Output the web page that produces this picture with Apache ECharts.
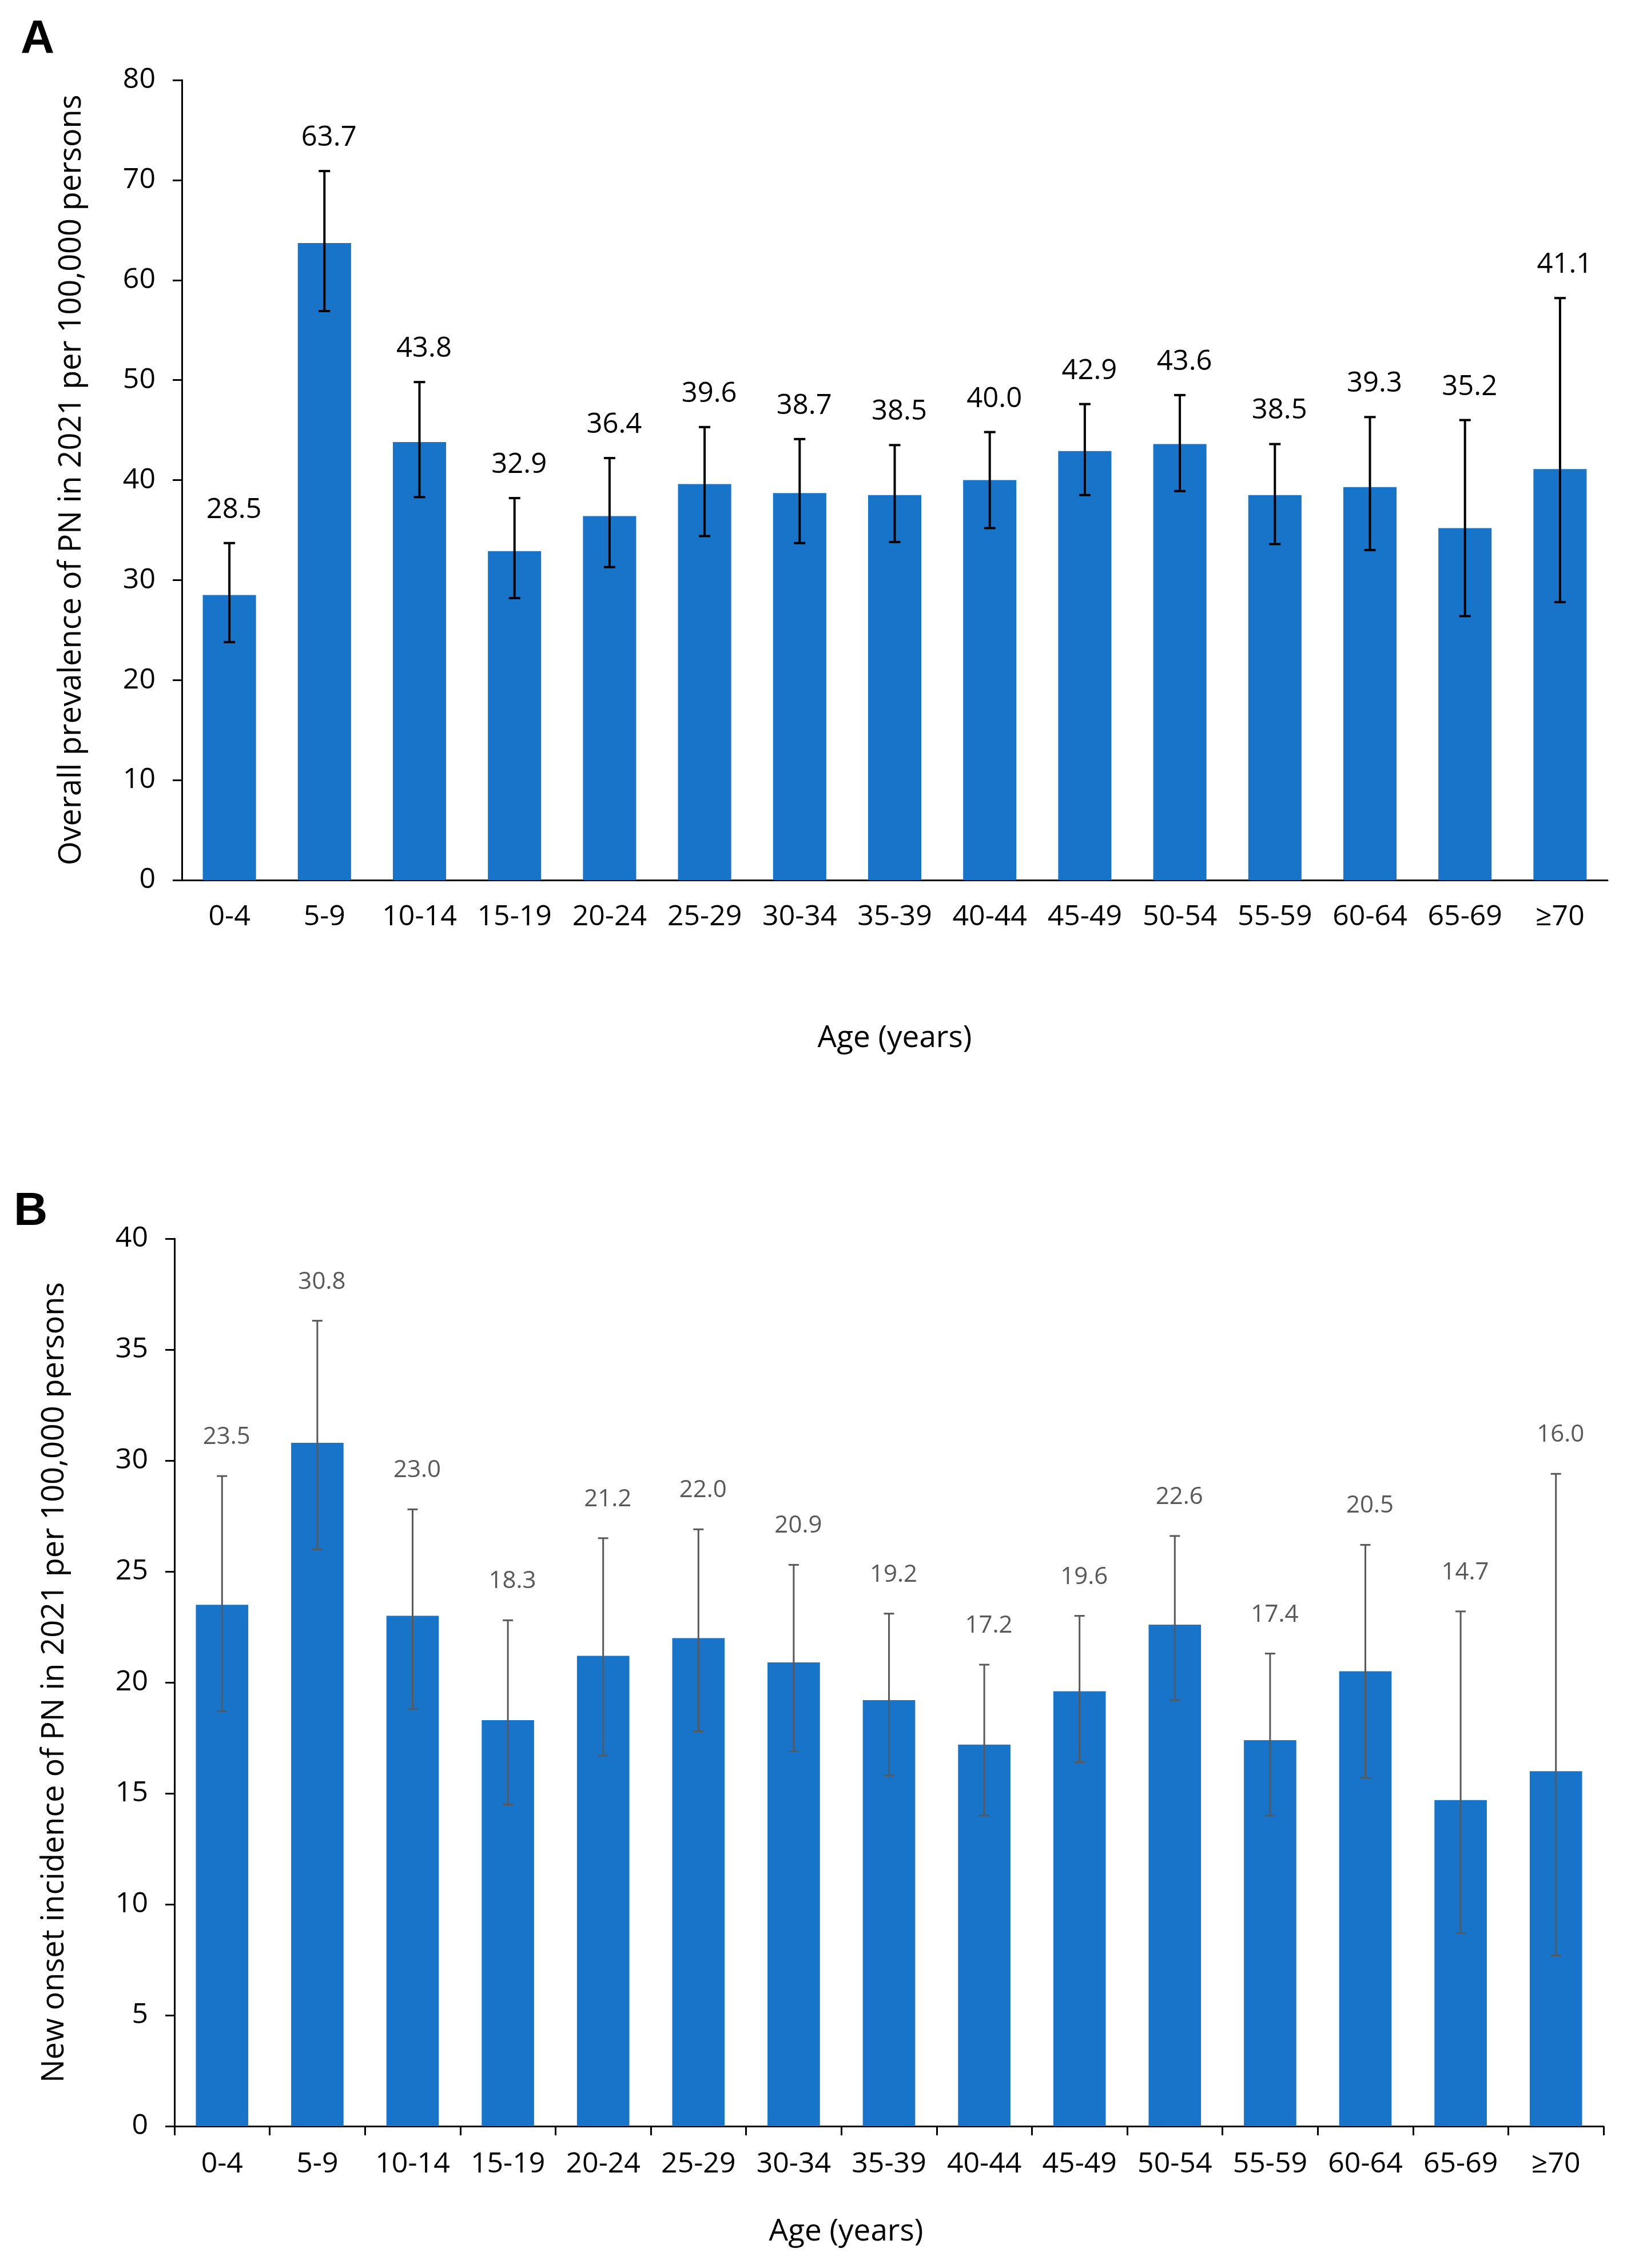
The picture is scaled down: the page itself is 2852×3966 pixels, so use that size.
<!DOCTYPE html>
<html>
<head>
<meta charset="utf-8">
<script src="https://cdn.jsdelivr.net/npm/echarts@6/dist/echarts.min.js"></script>
<style>
html,body{margin:0;padding:0;background:#fff;}
#chart{width:2852px;height:3966px;}
</style>
</head>
<body>
<div id="chart"></div>
<script>
const ageGroups = ['0-4','5-9','10-14','15-19','20-24','25-29','30-34','35-39','40-44','45-49','50-54','55-59','60-64','65-69','≥70'];
const prevalence = [28.5,63.7,43.8,32.9,36.4,39.6,38.7,38.5,40.0,42.9,43.6,38.5,39.3,35.2,41.1];
const prevLower  = [23.8,56.9,38.3,28.2,31.3,34.4,33.7,33.8,35.2,38.5,38.9,33.6,33.0,26.4,27.8];
const prevUpper  = [33.7,70.9,49.8,38.2,42.2,45.3,44.1,43.5,44.8,47.6,48.5,43.6,46.3,46.0,58.2];
const incidence  = [23.5,30.8,23.0,18.3,21.2,22.0,20.9,19.2,17.2,19.6,22.6,17.4,20.5,14.7,16.0];
const incLower   = [18.7,26.0,18.8,14.5,16.7,17.8,16.9,15.8,14.0,16.4,19.2,14.0,15.7,8.7,7.7];
const incUpper   = [29.3,36.3,27.8,22.8,26.5,26.9,25.3,23.1,20.8,23.0,26.6,21.3,26.2,23.2,29.4];

const FONT = "'Open Sans', 'DejaVu Sans', sans-serif";
const BAR = '#1874C8';

function errRender(color, lw, cap, labelColor, fontSize, offset) {
  return function (params, api) {
    const i = api.value(0);
    const lo = api.coord([i, api.value(1)]);
    const hi = api.coord([i, api.value(2)]);
    const cx = lo[0];
    const st = {stroke: color, lineWidth: lw};
    return {
      type: 'group',
      children: [
        {type: 'line', shape: {x1: cx, y1: hi[1], x2: cx, y2: lo[1]}, style: st},
        {type: 'line', shape: {x1: cx - cap, y1: hi[1], x2: cx + cap, y2: hi[1]}, style: st},
        {type: 'line', shape: {x1: cx - cap, y1: lo[1], x2: cx + cap, y2: lo[1]}, style: st},
        {type: 'text', style: {
          text: api.value(3).toFixed(1), x: cx + 8, y: hi[1] - offset,
          align: 'center', verticalAlign: 'middle',
          fill: labelColor, fontSize: fontSize, fontFamily: FONT
        }}
      ]
    };
  };
}

const errA = ageGroups.map((g, i) => [i, prevLower[i], prevUpper[i], prevalence[i]]);
const errB = ageGroups.map((g, i) => [i, incLower[i], incUpper[i], incidence[i]]);

const axisLineStyle = {color: '#000', width: 3};

const chart = echarts.init(document.getElementById('chart'), null, {renderer: 'canvas'});
chart.setOption({
  backgroundColor: '#fff',
  animation: false,
  graphic: [
    {type: 'text', left: 36, top: 28, style: {text: 'A', fontSize: 82, fontWeight: 'bold', fontFamily: "'Liberation Sans', Arial, sans-serif", fill: '#000'}},
    {type: 'text', left: 24, top: 2078, style: {text: 'B', fontSize: 82, fontWeight: 'bold', fontFamily: "'Liberation Sans', Arial, sans-serif", fill: '#000'}}
  ],
  grid: [
    {left: 318, right: 41, top: 140, height: 1399, outerBoundsMode: 'none'},
    {left: 305, right: 48, top: 2166, height: 1552, outerBoundsMode: 'none'}
  ],
  xAxis: [
    {
      type: 'category', gridIndex: 0, data: ageGroups,
      axisLine: {lineStyle: axisLineStyle},
      axisTick: {show: false},
      axisLabel: {color: '#000', fontSize: 50, fontFamily: FONT, margin: 40, interval: 0},
      name: 'Age (years)', nameLocation: 'middle', nameGap: 250,
      nameTextStyle: {color: '#000', fontSize: 53, fontFamily: FONT}
    },
    {
      type: 'category', gridIndex: 1, data: ageGroups,
      axisLine: {lineStyle: axisLineStyle},
      axisTick: {show: true, length: 16, lineStyle: {color: '#000', width: 3}},
      axisLabel: {color: '#000', fontSize: 50, fontFamily: FONT, margin: 42, interval: 0},
      name: 'Age (years)', nameLocation: 'middle', nameGap: 158,
      nameTextStyle: {color: '#000', fontSize: 53, fontFamily: FONT, padding: [0, 150, 0, 0]}
    }
  ],
  yAxis: [
    {
      type: 'value', gridIndex: 0, min: 0, max: 80, interval: 10,
      axisLine: {show: true, lineStyle: axisLineStyle},
      axisTick: {show: true, length: 16, lineStyle: {color: '#000', width: 3}},
      splitLine: {show: false},
      axisLabel: {color: '#000', fontSize: 50, fontFamily: FONT, margin: 46},
      name: 'Overall prevalence of PN in 2021 per 100,000 persons',
      nameLocation: 'middle', nameGap: 165,
      nameTextStyle: {color: '#000', fontSize: 54, fontFamily: FONT}
    },
    {
      type: 'value', gridIndex: 1, min: 0, max: 40, interval: 5,
      axisLine: {show: true, lineStyle: axisLineStyle},
      axisTick: {show: true, length: 16, lineStyle: {color: '#000', width: 3}},
      splitLine: {show: false},
      axisLabel: {color: '#000', fontSize: 50, fontFamily: FONT, margin: 46},
      name: 'New onset incidence of PN in 2021 per 100,000 persons',
      nameLocation: 'middle', nameGap: 182,
      nameTextStyle: {color: '#000', fontSize: 54, fontFamily: FONT}
    }
  ],
  series: [
    {
      type: 'bar', xAxisIndex: 0, yAxisIndex: 0, data: prevalence,
      barCategoryGap: '44%', itemStyle: {color: BAR}
    },
    {
      type: 'custom', xAxisIndex: 0, yAxisIndex: 0, data: errA,
      renderItem: errRender('#000', 4, 10, '#000', 49, 58), z: 5
    },
    {
      type: 'bar', xAxisIndex: 1, yAxisIndex: 1, data: incidence,
      barCategoryGap: '45%', itemStyle: {color: BAR}
    },
    {
      type: 'custom', xAxisIndex: 1, yAxisIndex: 1, data: errB,
      renderItem: errRender('#595959', 3, 9, '#595959', 42, 68), z: 5
    }
  ]
});
</script>
</body>
</html>
